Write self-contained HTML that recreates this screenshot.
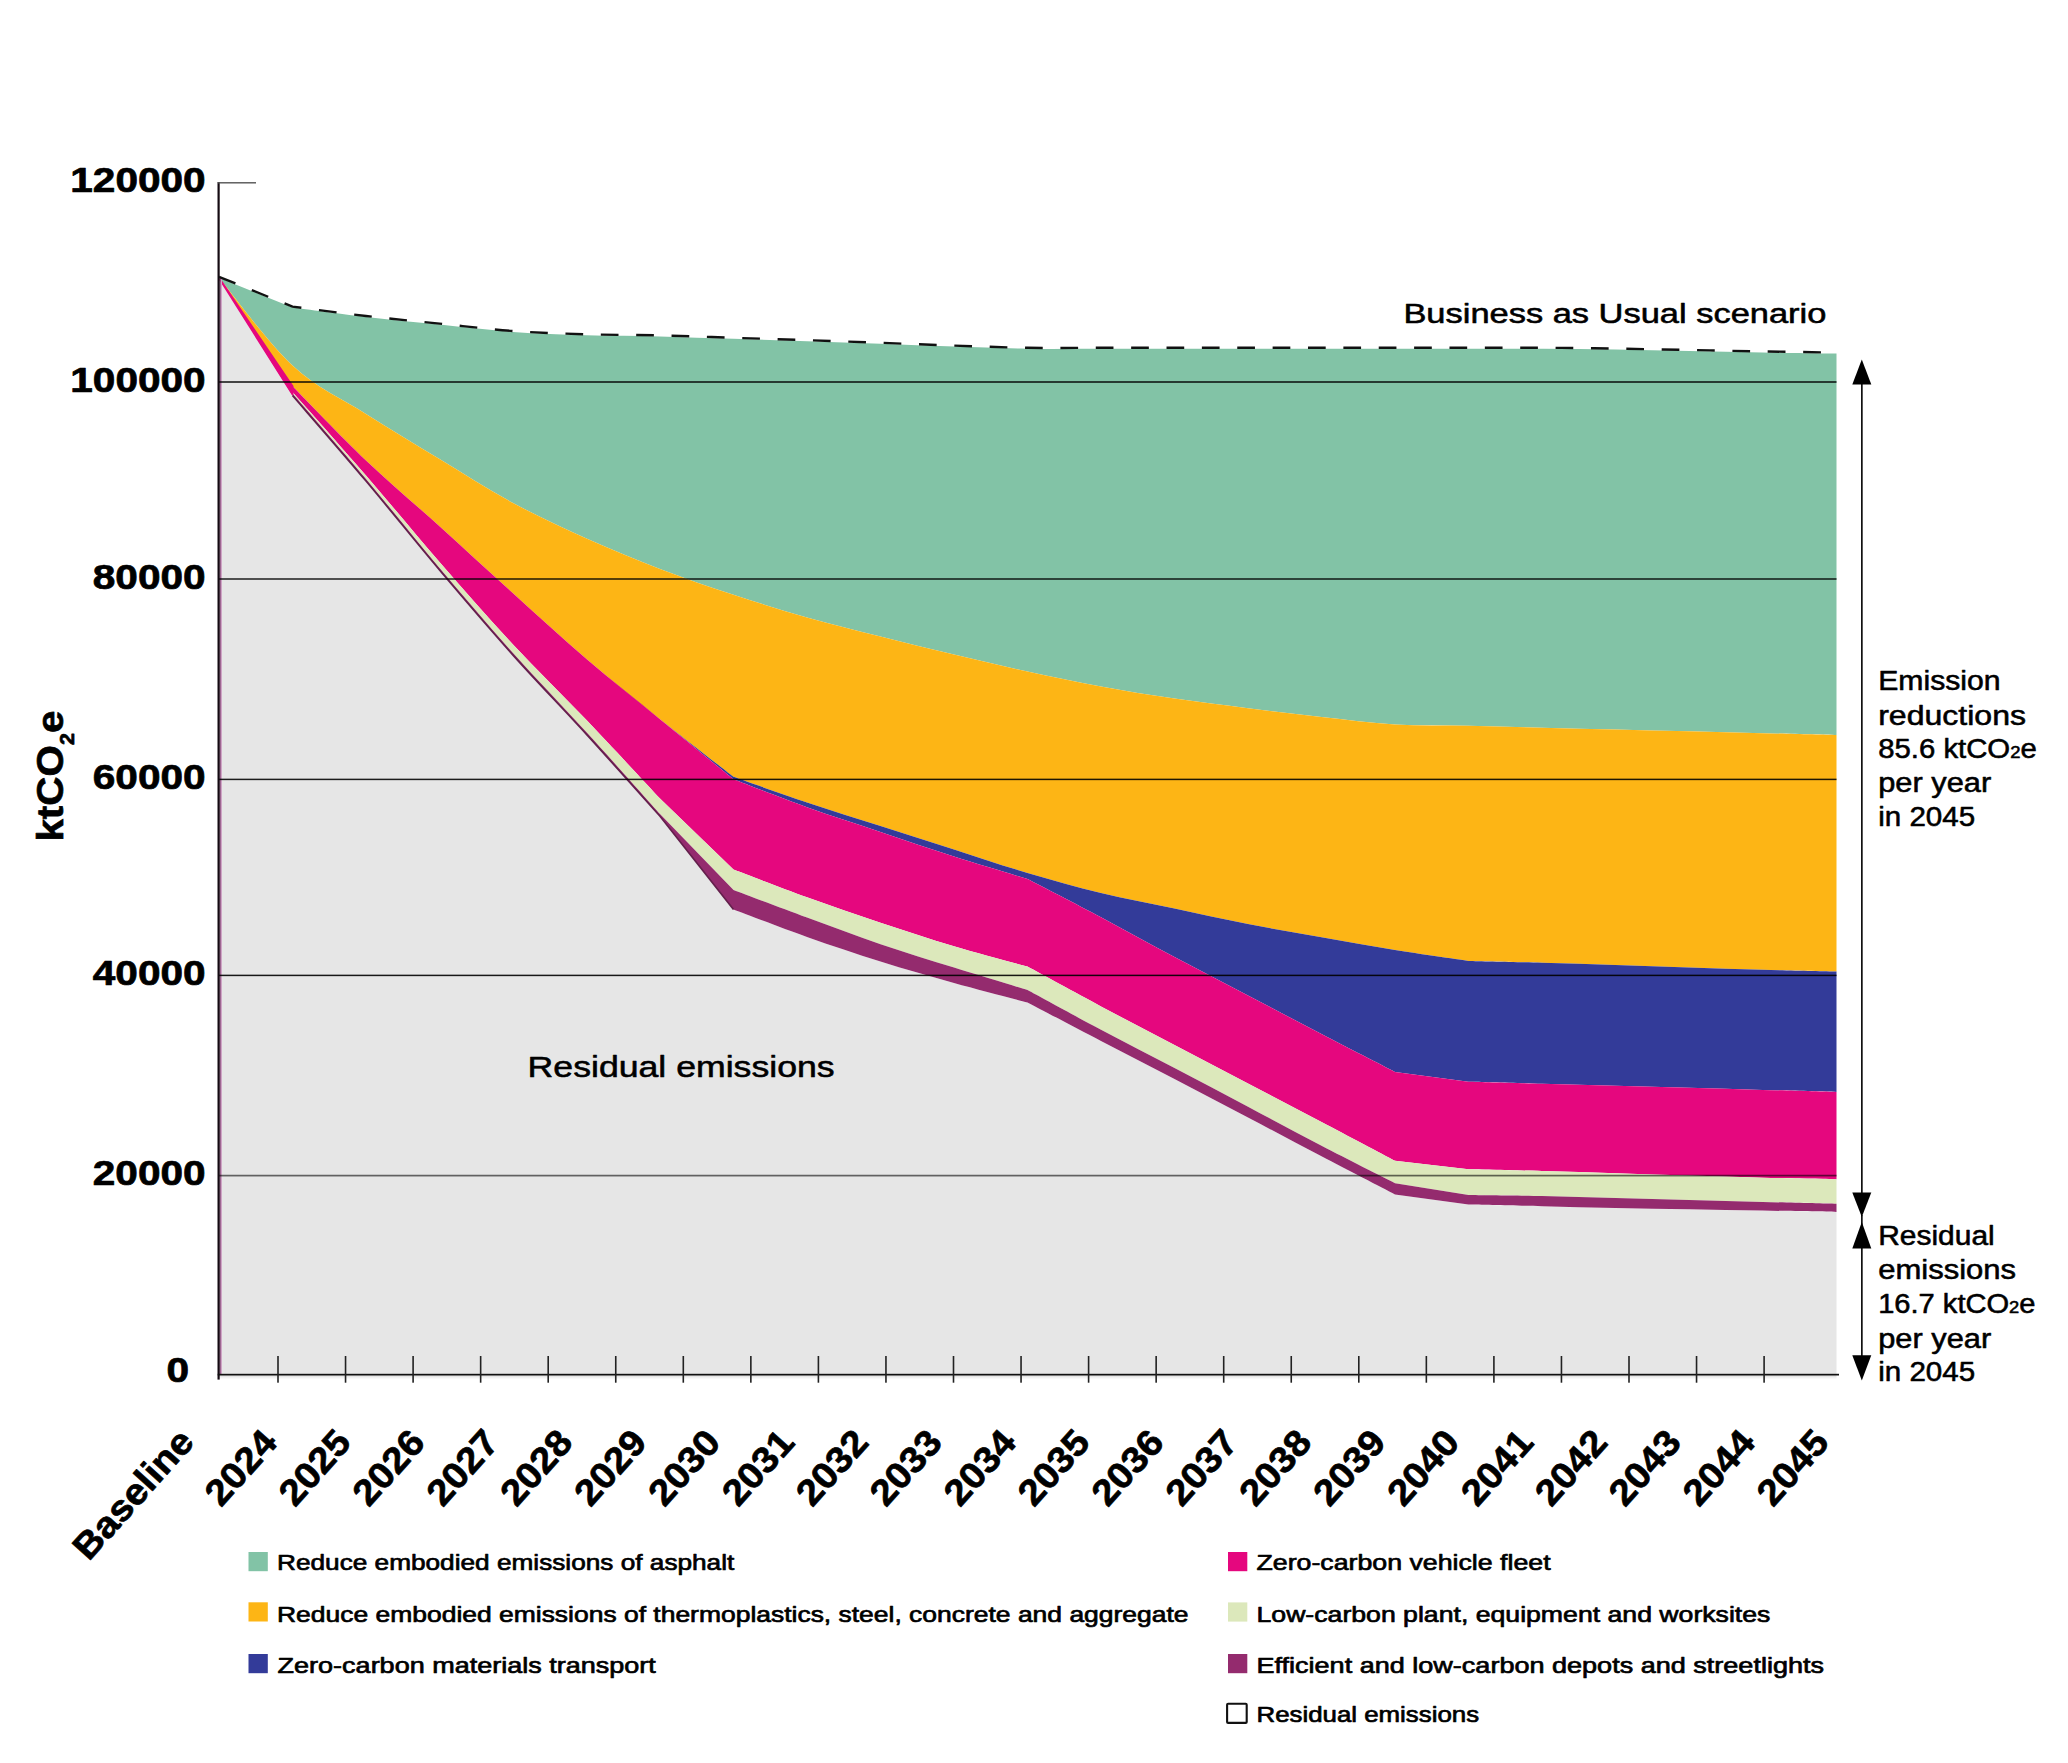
<!DOCTYPE html>
<html lang="en"><head><meta charset="utf-8"><title>Emissions pathway</title>
<style>html,body{margin:0;padding:0;background:#fff}svg{display:block}text{font-family:"Liberation Sans",sans-serif;fill:#000}.b{font-weight:bold}.m{stroke:#000;stroke-width:0.55px;stroke-linejoin:round}.sb{stroke:#000;stroke-width:0.7px;stroke-linejoin:round}.h{font-weight:bold;stroke:#000;stroke-width:0.7px;stroke-linejoin:round}</style>
</head><body>
<svg width="2068" height="1763" viewBox="0 0 2068 1763">
<rect width="2068" height="1763" fill="#fff"/>
<path fill="#e6e6e6" d="M219.0,277.8 L292.5,395.5 C304.8,409.8 341.5,451.9 366.0,481.0 C390.5,510.1 415.0,541.0 439.5,570.0 C464.0,599.0 488.5,627.7 513.0,655.1 C537.5,682.5 562.0,707.5 586.5,734.4 C611.0,761.3 647.8,802.6 660.0,816.3 L733.5,909.5 C745.8,914.1 782.5,928.3 807.0,937.0 C831.5,945.7 856.0,953.8 880.5,961.5 C905.0,969.2 929.5,976.2 954.0,983.0 C978.5,989.8 1015.2,999.2 1027.5,1002.4 C1039.8,1008.8 1076.5,1028.1 1101.0,1040.9 C1125.5,1053.7 1150.0,1066.2 1174.5,1079.0 C1199.0,1091.8 1223.5,1104.6 1248.0,1117.5 C1272.5,1130.4 1297.0,1143.5 1321.5,1156.3 C1346.0,1169.1 1382.8,1188.1 1395.0,1194.4 L1468.5,1204.6 C1480.8,1204.9 1517.5,1205.7 1542.0,1206.2 C1566.5,1206.8 1591.0,1207.4 1615.5,1207.9 C1640.0,1208.4 1664.5,1208.8 1689.0,1209.3 C1713.5,1209.8 1737.9,1210.2 1762.5,1210.6 C1787.1,1211.0 1824.2,1211.7 1836.5,1211.9 L1836.5,1377.2 L218.0,1377.2 L218.0,277.8 Z"/>
<rect x="218.0" y="1377.2" width="1618.5" height="1.2" fill="#f1f1f1"/>
<path fill="#82c3a6" d="M219.0,277.8 L292.5,307.6 C304.8,309.2 341.5,314.2 366.0,317.0 C390.5,319.8 415.0,322.1 439.5,324.6 C464.0,327.1 488.5,330.2 513.0,332.0 C537.5,333.8 562.0,334.6 586.5,335.3 C611.0,336.0 635.5,335.8 660.0,336.4 C684.5,337.0 709.0,338.0 733.5,338.8 C758.0,339.6 782.5,340.4 807.0,341.2 C831.5,342.0 856.0,342.9 880.5,343.8 C905.0,344.7 929.5,345.8 954.0,346.6 C978.5,347.4 1003.0,348.4 1027.5,348.8 C1052.0,349.2 1076.5,348.8 1101.0,348.8 C1125.5,348.8 1150.0,348.8 1174.5,348.8 C1199.0,348.8 1223.5,348.8 1248.0,348.8 C1272.5,348.8 1297.0,348.8 1321.5,348.8 C1346.0,348.8 1370.5,348.8 1395.0,348.8 C1419.5,348.8 1444.0,348.8 1468.5,348.8 C1493.0,348.8 1517.5,348.7 1542.0,348.8 C1566.5,348.9 1591.0,349.2 1615.5,349.6 C1640.0,350.0 1664.5,350.5 1689.0,351.0 C1713.5,351.5 1737.9,352.0 1762.5,352.4 C1787.1,352.8 1824.2,353.4 1836.5,353.6 L1836.5,735.0 C1824.2,734.7 1787.1,733.8 1762.5,733.2 C1737.9,732.6 1713.5,731.9 1689.0,731.3 C1664.5,730.7 1640.0,730.1 1615.5,729.5 C1591.0,728.9 1566.5,728.3 1542.0,727.7 C1517.5,727.1 1493.0,726.3 1468.5,725.8 C1444.0,725.3 1419.5,726.0 1395.0,724.5 C1370.5,723.0 1346.0,719.7 1321.5,717.0 C1297.0,714.3 1272.5,711.3 1248.0,708.2 C1223.5,705.1 1199.0,702.2 1174.5,698.6 C1150.0,695.0 1125.5,690.9 1101.0,686.4 C1076.5,681.9 1052.0,676.8 1027.5,671.5 C1003.0,666.2 978.5,660.3 954.0,654.5 C929.5,648.7 905.0,642.7 880.5,636.5 C856.0,630.3 831.5,624.5 807.0,617.5 C782.5,610.5 758.0,602.9 733.5,594.8 C709.0,586.7 684.5,578.4 660.0,569.0 C635.5,559.6 611.0,549.5 586.5,538.5 C562.0,527.5 537.5,516.2 513.0,503.0 C488.5,489.8 464.0,473.8 439.5,459.0 C415.0,444.2 390.5,429.6 366.0,414.0 C341.5,398.4 317.0,388.2 292.5,365.5 C268.0,342.8 231.2,292.4 219.0,277.8 Z"/>
<path fill="#fdb515" d="M219.0,277.8 C231.2,292.4 268.0,342.8 292.5,365.5 C317.0,388.2 341.5,398.4 366.0,414.0 C390.5,429.6 415.0,444.2 439.5,459.0 C464.0,473.8 488.5,489.8 513.0,503.0 C537.5,516.2 562.0,527.5 586.5,538.5 C611.0,549.5 635.5,559.6 660.0,569.0 C684.5,578.4 709.0,586.7 733.5,594.8 C758.0,602.9 782.5,610.5 807.0,617.5 C831.5,624.5 856.0,630.3 880.5,636.5 C905.0,642.7 929.5,648.7 954.0,654.5 C978.5,660.3 1003.0,666.2 1027.5,671.5 C1052.0,676.8 1076.5,681.9 1101.0,686.4 C1125.5,690.9 1150.0,695.0 1174.5,698.6 C1199.0,702.2 1223.5,705.1 1248.0,708.2 C1272.5,711.3 1297.0,714.3 1321.5,717.0 C1346.0,719.7 1370.5,723.0 1395.0,724.5 C1419.5,726.0 1444.0,725.3 1468.5,725.8 C1493.0,726.3 1517.5,727.1 1542.0,727.7 C1566.5,728.3 1591.0,728.9 1615.5,729.5 C1640.0,730.1 1664.5,730.7 1689.0,731.3 C1713.5,731.9 1737.9,732.6 1762.5,733.2 C1787.1,733.8 1824.2,734.7 1836.5,735.0 L1836.5,971.5 C1824.2,971.2 1787.1,970.5 1762.5,969.8 C1737.9,969.1 1713.5,968.2 1689.0,967.4 C1664.5,966.6 1640.0,965.7 1615.5,964.9 C1591.0,964.1 1566.5,963.4 1542.0,962.7 C1517.5,962.0 1480.8,961.2 1468.5,960.9 C1456.2,959.1 1419.5,953.9 1395.0,950.0 C1370.5,946.1 1346.0,941.6 1321.5,937.3 C1297.0,933.0 1272.5,928.8 1248.0,924.0 C1223.5,919.2 1199.0,913.7 1174.5,908.5 C1150.0,903.3 1125.5,898.9 1101.0,893.0 C1076.5,887.1 1052.0,880.3 1027.5,873.0 C1003.0,865.7 978.5,857.2 954.0,849.4 C929.5,841.6 905.0,833.8 880.5,826.0 C856.0,818.2 831.5,810.7 807.0,802.5 C782.5,794.3 745.8,781.1 733.5,776.8 C721.2,767.2 684.5,738.9 660.0,719.3 C635.5,699.7 611.0,680.0 586.5,659.0 C562.0,638.0 537.5,615.4 513.0,593.3 C488.5,571.2 464.0,548.3 439.5,526.2 C415.0,504.1 390.5,483.8 366.0,460.5 C341.5,437.2 304.8,398.7 292.5,386.3 L219.0,277.8 Z"/>
<path fill="#333b99" d="M219.0,277.8 L292.5,386.3 C304.8,398.7 341.5,437.2 366.0,460.5 C390.5,483.8 415.0,504.1 439.5,526.2 C464.0,548.3 488.5,571.2 513.0,593.3 C537.5,615.4 562.0,638.0 586.5,659.0 C611.0,680.0 635.5,699.7 660.0,719.3 C684.5,738.9 721.2,767.2 733.5,776.8 C745.8,781.1 782.5,794.3 807.0,802.5 C831.5,810.7 856.0,818.2 880.5,826.0 C905.0,833.8 929.5,841.6 954.0,849.4 C978.5,857.2 1003.0,865.7 1027.5,873.0 C1052.0,880.3 1076.5,887.1 1101.0,893.0 C1125.5,898.9 1150.0,903.3 1174.5,908.5 C1199.0,913.7 1223.5,919.2 1248.0,924.0 C1272.5,928.8 1297.0,933.0 1321.5,937.3 C1346.0,941.6 1370.5,946.1 1395.0,950.0 C1419.5,953.9 1456.2,959.1 1468.5,960.9 C1480.8,961.2 1517.5,962.0 1542.0,962.7 C1566.5,963.4 1591.0,964.1 1615.5,964.9 C1640.0,965.7 1664.5,966.6 1689.0,967.4 C1713.5,968.2 1737.9,969.1 1762.5,969.8 C1787.1,970.5 1824.2,971.2 1836.5,971.5 L1836.5,1091.9 C1824.2,1091.6 1787.1,1090.6 1762.5,1089.9 C1737.9,1089.2 1713.5,1088.5 1689.0,1087.8 C1664.5,1087.1 1640.0,1086.5 1615.5,1085.8 C1591.0,1085.1 1566.5,1084.4 1542.0,1083.7 C1517.5,1083.0 1480.8,1082.0 1468.5,1081.7 L1395.0,1071.9 C1382.8,1065.6 1346.0,1046.7 1321.5,1034.0 C1297.0,1021.3 1272.5,1008.3 1248.0,995.5 C1223.5,982.7 1199.0,970.0 1174.5,957.0 C1150.0,944.0 1125.5,930.2 1101.0,917.2 C1076.5,904.2 1039.8,885.4 1027.5,879.0 C1015.2,875.3 978.5,864.4 954.0,856.6 C929.5,848.8 905.0,840.2 880.5,832.0 C856.0,823.8 831.5,816.1 807.0,807.3 C782.5,798.5 745.8,784.0 733.5,779.3 C721.2,769.3 684.5,739.3 660.0,719.3 C635.5,699.2 611.0,680.0 586.5,659.0 C562.0,638.0 537.5,615.4 513.0,593.3 C488.5,571.2 464.0,548.3 439.5,526.2 C415.0,504.1 390.5,483.8 366.0,460.5 C341.5,437.2 304.8,398.7 292.5,386.3 L219.0,277.8 Z"/>
<path fill="#e5077e" d="M219.0,277.8 L292.5,386.3 C304.8,398.7 341.5,437.2 366.0,460.5 C390.5,483.8 415.0,504.1 439.5,526.2 C464.0,548.3 488.5,571.2 513.0,593.3 C537.5,615.4 562.0,638.0 586.5,659.0 C611.0,680.0 635.5,699.2 660.0,719.3 C684.5,739.3 721.2,769.3 733.5,779.3 C745.8,784.0 782.5,798.5 807.0,807.3 C831.5,816.1 856.0,823.8 880.5,832.0 C905.0,840.2 929.5,848.8 954.0,856.6 C978.5,864.4 1015.2,875.3 1027.5,879.0 C1039.8,885.4 1076.5,904.2 1101.0,917.2 C1125.5,930.2 1150.0,944.0 1174.5,957.0 C1199.0,970.0 1223.5,982.7 1248.0,995.5 C1272.5,1008.3 1297.0,1021.3 1321.5,1034.0 C1346.0,1046.7 1382.8,1065.6 1395.0,1071.9 L1468.5,1081.7 C1480.8,1082.0 1517.5,1083.0 1542.0,1083.7 C1566.5,1084.4 1591.0,1085.1 1615.5,1085.8 C1640.0,1086.5 1664.5,1087.1 1689.0,1087.8 C1713.5,1088.5 1737.9,1089.2 1762.5,1089.9 C1787.1,1090.6 1824.2,1091.6 1836.5,1091.9 L1836.5,1179.3 C1824.2,1179.0 1787.1,1178.3 1762.5,1177.7 C1737.9,1177.1 1713.5,1176.3 1689.0,1175.6 C1664.5,1174.8 1640.0,1174.0 1615.5,1173.2 C1591.0,1172.5 1566.5,1171.8 1542.0,1171.1 C1517.5,1170.4 1480.8,1169.6 1468.5,1169.3 L1395.0,1160.7 C1382.8,1154.2 1346.0,1134.8 1321.5,1121.9 C1297.0,1109.0 1272.5,1096.2 1248.0,1083.4 C1223.5,1070.6 1199.0,1057.7 1174.5,1044.9 C1150.0,1032.1 1125.5,1019.5 1101.0,1006.4 C1076.5,993.3 1039.8,973.2 1027.5,966.6 C1015.2,963.2 978.5,953.5 954.0,946.2 C929.5,938.9 905.0,930.9 880.5,922.7 C856.0,914.5 831.5,906.1 807.0,897.2 C782.5,888.4 745.8,874.2 733.5,869.6 L660.0,798.6 C647.8,785.5 611.0,745.8 586.5,720.1 C562.0,694.4 537.5,670.9 513.0,644.5 C488.5,618.1 464.0,590.2 439.5,562.0 C415.0,533.8 390.5,503.8 366.0,475.5 C341.5,447.2 304.8,405.9 292.5,392.0 L219.0,277.8 Z"/>
<path fill="#dce8bb" d="M219.0,277.8 L292.5,392.0 C304.8,405.9 341.5,447.2 366.0,475.5 C390.5,503.8 415.0,533.8 439.5,562.0 C464.0,590.2 488.5,618.1 513.0,644.5 C537.5,670.9 562.0,694.4 586.5,720.1 C611.0,745.8 647.8,785.5 660.0,798.6 L733.5,869.6 C745.8,874.2 782.5,888.4 807.0,897.2 C831.5,906.1 856.0,914.5 880.5,922.7 C905.0,930.9 929.5,938.9 954.0,946.2 C978.5,953.5 1015.2,963.2 1027.5,966.6 C1039.8,973.2 1076.5,993.3 1101.0,1006.4 C1125.5,1019.5 1150.0,1032.1 1174.5,1044.9 C1199.0,1057.7 1223.5,1070.6 1248.0,1083.4 C1272.5,1096.2 1297.0,1109.0 1321.5,1121.9 C1346.0,1134.8 1382.8,1154.2 1395.0,1160.7 L1468.5,1169.3 C1480.8,1169.6 1517.5,1170.4 1542.0,1171.1 C1566.5,1171.8 1591.0,1172.5 1615.5,1173.2 C1640.0,1174.0 1664.5,1174.8 1689.0,1175.6 C1713.5,1176.3 1737.9,1177.1 1762.5,1177.7 C1787.1,1178.3 1824.2,1179.0 1836.5,1179.3 L1836.5,1203.8 C1824.2,1203.5 1787.1,1202.6 1762.5,1201.9 C1737.9,1201.2 1713.5,1200.5 1689.0,1199.9 C1664.5,1199.3 1640.0,1198.8 1615.5,1198.1 C1591.0,1197.4 1566.5,1196.5 1542.0,1196.0 C1517.5,1195.5 1480.8,1195.2 1468.5,1195.0 L1395.0,1183.2 C1382.8,1177.0 1346.0,1158.5 1321.5,1145.8 C1297.0,1133.1 1272.5,1119.8 1248.0,1106.8 C1223.5,1093.8 1199.0,1080.8 1174.5,1068.0 C1150.0,1055.2 1125.5,1042.8 1101.0,1029.8 C1076.5,1016.8 1039.8,996.7 1027.5,990.1 C1015.2,986.4 978.5,975.2 954.0,967.6 C929.5,960.0 905.0,952.5 880.5,944.2 C856.0,935.9 831.5,926.6 807.0,917.6 C782.5,908.6 745.8,894.7 733.5,890.1 L660.0,814.0 C647.8,800.4 611.0,759.1 586.5,732.3 C562.0,705.5 537.5,680.4 513.0,653.0 C488.5,625.6 464.0,597.0 439.5,568.0 C415.0,539.0 390.5,508.1 366.0,479.0 C341.5,449.9 304.8,407.8 292.5,393.5 L219.0,277.8 Z"/>
<path fill="#942b6e" d="M219.0,277.8 L292.5,393.5 C304.8,407.8 341.5,449.9 366.0,479.0 C390.5,508.1 415.0,539.0 439.5,568.0 C464.0,597.0 488.5,625.6 513.0,653.0 C537.5,680.4 562.0,705.5 586.5,732.3 C611.0,759.1 647.8,800.4 660.0,814.0 L733.5,890.1 C745.8,894.7 782.5,908.6 807.0,917.6 C831.5,926.6 856.0,935.9 880.5,944.2 C905.0,952.5 929.5,960.0 954.0,967.6 C978.5,975.2 1015.2,986.4 1027.5,990.1 C1039.8,996.7 1076.5,1016.8 1101.0,1029.8 C1125.5,1042.8 1150.0,1055.2 1174.5,1068.0 C1199.0,1080.8 1223.5,1093.8 1248.0,1106.8 C1272.5,1119.8 1297.0,1133.1 1321.5,1145.8 C1346.0,1158.5 1382.8,1177.0 1395.0,1183.2 L1468.5,1195.0 C1480.8,1195.2 1517.5,1195.5 1542.0,1196.0 C1566.5,1196.5 1591.0,1197.4 1615.5,1198.1 C1640.0,1198.8 1664.5,1199.3 1689.0,1199.9 C1713.5,1200.5 1737.9,1201.2 1762.5,1201.9 C1787.1,1202.6 1824.2,1203.5 1836.5,1203.8 L1836.5,1211.9 C1824.2,1211.7 1787.1,1211.0 1762.5,1210.6 C1737.9,1210.2 1713.5,1209.8 1689.0,1209.3 C1664.5,1208.8 1640.0,1208.4 1615.5,1207.9 C1591.0,1207.4 1566.5,1206.8 1542.0,1206.2 C1517.5,1205.7 1480.8,1204.9 1468.5,1204.6 L1395.0,1194.4 C1382.8,1188.1 1346.0,1169.1 1321.5,1156.3 C1297.0,1143.5 1272.5,1130.4 1248.0,1117.5 C1223.5,1104.6 1199.0,1091.8 1174.5,1079.0 C1150.0,1066.2 1125.5,1053.7 1101.0,1040.9 C1076.5,1028.1 1039.8,1008.8 1027.5,1002.4 C1015.2,999.2 978.5,989.8 954.0,983.0 C929.5,976.2 905.0,969.2 880.5,961.5 C856.0,953.8 831.5,945.7 807.0,937.0 C782.5,928.3 745.8,914.1 733.5,909.5 L660.0,816.3 C647.8,802.6 611.0,761.3 586.5,734.4 C562.0,707.5 537.5,682.5 513.0,655.1 C488.5,627.7 464.0,599.0 439.5,570.0 C415.0,541.0 390.5,510.1 366.0,481.0 C341.5,451.9 304.8,409.8 292.5,395.5 L219.0,277.8 Z"/>
<path fill="none" stroke="#64204c" stroke-width="1.7" d="M292.5,395.5 C304.8,409.8 341.5,451.9 366.0,481.0 C390.5,510.1 415.0,541.0 439.5,570.0 C464.0,599.0 488.5,627.7 513.0,655.1 C537.5,682.5 562.0,707.5 586.5,734.4 C611.0,761.3 647.8,802.6 660.0,816.3 L733.5,909.5"/>
<polygon fill="#e5077e" stroke="#e5077e" stroke-width="2.0" stroke-linejoin="round" points="220.2,279.8 292.5,386.3 292.5,394.3"/>
<rect x="219.6" y="278" width="1.2" height="1096.6" fill="#7c356a"/>
<rect x="220.8" y="278" width="1.2" height="1096.6" fill="#cfa5c6"/>
<rect x="219" y="381.20" width="1617.5" height="1.6" fill="#000" fill-opacity="0.88"/>
<rect x="219" y="578.25" width="1617.5" height="1.5" fill="#000" fill-opacity="0.88"/>
<rect x="219" y="778.65" width="1617.5" height="1.5" fill="#000" fill-opacity="0.88"/>
<rect x="219" y="974.65" width="1617.5" height="1.5" fill="#000" fill-opacity="0.9"/>
<rect x="219" y="1174.75" width="1617.5" height="1.7" fill="#000" fill-opacity="0.58"/>
<rect x="217.5" y="182" width="2.2" height="1197.6" fill="#140a12"/>
<rect x="218" y="182.1" width="38" height="1.4" fill="#555"/>
<rect x="217.7" y="1373.80" width="1621.3" height="1.7" fill="#111"/>
<rect x="277.20" y="1356" width="1.6" height="26.7" fill="#222"/>
<rect x="344.75" y="1356" width="1.6" height="26.7" fill="#222"/>
<rect x="412.30" y="1356" width="1.6" height="26.7" fill="#222"/>
<rect x="479.85" y="1356" width="1.6" height="26.7" fill="#222"/>
<rect x="547.40" y="1356" width="1.6" height="26.7" fill="#222"/>
<rect x="614.95" y="1356" width="1.6" height="26.7" fill="#222"/>
<rect x="682.50" y="1356" width="1.6" height="26.7" fill="#222"/>
<rect x="750.05" y="1356" width="1.6" height="26.7" fill="#222"/>
<rect x="817.60" y="1356" width="1.6" height="26.7" fill="#222"/>
<rect x="885.15" y="1356" width="1.6" height="26.7" fill="#222"/>
<rect x="952.70" y="1356" width="1.6" height="26.7" fill="#222"/>
<rect x="1020.25" y="1356" width="1.6" height="26.7" fill="#222"/>
<rect x="1087.80" y="1356" width="1.6" height="26.7" fill="#222"/>
<rect x="1155.35" y="1356" width="1.6" height="26.7" fill="#222"/>
<rect x="1222.90" y="1356" width="1.6" height="26.7" fill="#222"/>
<rect x="1290.45" y="1356" width="1.6" height="26.7" fill="#222"/>
<rect x="1358.00" y="1356" width="1.6" height="26.7" fill="#222"/>
<rect x="1425.55" y="1356" width="1.6" height="26.7" fill="#222"/>
<rect x="1493.10" y="1356" width="1.6" height="26.7" fill="#222"/>
<rect x="1560.65" y="1356" width="1.6" height="26.7" fill="#222"/>
<rect x="1628.20" y="1356" width="1.6" height="26.7" fill="#222"/>
<rect x="1695.75" y="1356" width="1.6" height="26.7" fill="#222"/>
<rect x="1763.30" y="1356" width="1.6" height="26.7" fill="#222"/>
<path fill="none" stroke="#111" stroke-width="2.4" stroke-dasharray="17.7 17.67" d="M219.0,276.8 L292.5,306.6 C304.8,308.2 341.5,313.2 366.0,316.0 C390.5,318.8 415.0,321.1 439.5,323.6 C464.0,326.1 488.5,329.2 513.0,331.0 C537.5,332.8 562.0,333.6 586.5,334.3 C611.0,335.0 635.5,334.8 660.0,335.4 C684.5,336.0 709.0,337.0 733.5,337.8 C758.0,338.6 782.5,339.4 807.0,340.2 C831.5,341.0 856.0,341.9 880.5,342.8 C905.0,343.7 929.5,344.8 954.0,345.6 C978.5,346.4 1003.0,347.4 1027.5,347.8 C1052.0,348.2 1076.5,347.8 1101.0,347.8 C1125.5,347.8 1150.0,347.8 1174.5,347.8 C1199.0,347.8 1223.5,347.8 1248.0,347.8 C1272.5,347.8 1297.0,347.8 1321.5,347.8 C1346.0,347.8 1370.5,347.8 1395.0,347.8 C1419.5,347.8 1444.0,347.8 1468.5,347.8 C1493.0,347.8 1517.5,347.7 1542.0,347.8 C1566.5,347.9 1591.0,348.2 1615.5,348.6 C1640.0,349.0 1664.5,349.5 1689.0,350.0 C1713.5,350.5 1738.0,351.0 1762.5,351.4 C1787.0,351.8 1823.8,352.4 1836.0,352.6"/>
<rect x="1861" y="375" width="1.7" height="830" fill="#111"/>
<rect x="1861" y="1215" width="1.7" height="150" fill="#111"/>
<polygon fill="#000" points="1861.8,359.5 1871.3,384.5 1852.3,384.5"/>
<polygon fill="#000" points="1861.8,1217 1871.3,1192.5 1852.3,1192.5"/>
<polygon fill="#000" points="1861.8,1222 1871.3,1248.6 1852.3,1248.6"/>
<polygon fill="#000" points="1861.8,1380.5 1871.3,1355.3 1852.3,1355.3"/>
<text x="70.3" y="192.3" font-size="34.6" class="h" textLength="135.3" lengthAdjust="spacingAndGlyphs">120000</text>
<text x="70.3" y="391.7" font-size="34.6" class="h" textLength="135.3" lengthAdjust="spacingAndGlyphs">100000</text>
<text x="92.8" y="588.8" font-size="34.6" class="h" textLength="112.8" lengthAdjust="spacingAndGlyphs">80000</text>
<text x="92.8" y="789.3" font-size="34.6" class="h" textLength="112.8" lengthAdjust="spacingAndGlyphs">60000</text>
<text x="92.8" y="985.3" font-size="34.6" class="h" textLength="112.8" lengthAdjust="spacingAndGlyphs">40000</text>
<text x="92.8" y="1185.4" font-size="34.6" class="h" textLength="112.8" lengthAdjust="spacingAndGlyphs">20000</text>
<text x="166.6" y="1381.9" font-size="34.6" class="h" textLength="22.6" lengthAdjust="spacingAndGlyphs">0</text>
<g transform="translate(63.2,841.6) rotate(-90)"><text x="0" y="0" font-size="37.5" class="h" textLength="131" lengthAdjust="spacingAndGlyphs">ktCO<tspan font-size="20" dy="11">2</tspan><tspan dy="-11">e</tspan></text></g>
<text transform="translate(195.7,1443.1) rotate(-48)" x="-160.0" y="0" font-size="36.5" class="h" textLength="160.0" lengthAdjust="spacingAndGlyphs">Baseline</text>
<text transform="translate(278.9,1443.8) rotate(-48)" x="-86.5" y="0" font-size="36.5" class="h" textLength="86.5" lengthAdjust="spacingAndGlyphs">2024</text>
<text transform="translate(352.8,1443.8) rotate(-48)" x="-86.5" y="0" font-size="36.5" class="h" textLength="86.5" lengthAdjust="spacingAndGlyphs">2025</text>
<text transform="translate(426.7,1443.8) rotate(-48)" x="-86.5" y="0" font-size="36.5" class="h" textLength="86.5" lengthAdjust="spacingAndGlyphs">2026</text>
<text transform="translate(500.6,1443.8) rotate(-48)" x="-86.5" y="0" font-size="36.5" class="h" textLength="86.5" lengthAdjust="spacingAndGlyphs">2027</text>
<text transform="translate(574.5,1443.8) rotate(-48)" x="-86.5" y="0" font-size="36.5" class="h" textLength="86.5" lengthAdjust="spacingAndGlyphs">2028</text>
<text transform="translate(648.4,1443.8) rotate(-48)" x="-86.5" y="0" font-size="36.5" class="h" textLength="86.5" lengthAdjust="spacingAndGlyphs">2029</text>
<text transform="translate(722.3,1443.8) rotate(-48)" x="-86.5" y="0" font-size="36.5" class="h" textLength="86.5" lengthAdjust="spacingAndGlyphs">2030</text>
<text transform="translate(796.2,1443.8) rotate(-48)" x="-86.5" y="0" font-size="36.5" class="h" textLength="86.5" lengthAdjust="spacingAndGlyphs">2031</text>
<text transform="translate(870.1,1443.8) rotate(-48)" x="-86.5" y="0" font-size="36.5" class="h" textLength="86.5" lengthAdjust="spacingAndGlyphs">2032</text>
<text transform="translate(944.0,1443.8) rotate(-48)" x="-86.5" y="0" font-size="36.5" class="h" textLength="86.5" lengthAdjust="spacingAndGlyphs">2033</text>
<text transform="translate(1017.9,1443.8) rotate(-48)" x="-86.5" y="0" font-size="36.5" class="h" textLength="86.5" lengthAdjust="spacingAndGlyphs">2034</text>
<text transform="translate(1091.8,1443.8) rotate(-48)" x="-86.5" y="0" font-size="36.5" class="h" textLength="86.5" lengthAdjust="spacingAndGlyphs">2035</text>
<text transform="translate(1165.7,1443.8) rotate(-48)" x="-86.5" y="0" font-size="36.5" class="h" textLength="86.5" lengthAdjust="spacingAndGlyphs">2036</text>
<text transform="translate(1239.6,1443.8) rotate(-48)" x="-86.5" y="0" font-size="36.5" class="h" textLength="86.5" lengthAdjust="spacingAndGlyphs">2037</text>
<text transform="translate(1313.5,1443.8) rotate(-48)" x="-86.5" y="0" font-size="36.5" class="h" textLength="86.5" lengthAdjust="spacingAndGlyphs">2038</text>
<text transform="translate(1387.4,1443.8) rotate(-48)" x="-86.5" y="0" font-size="36.5" class="h" textLength="86.5" lengthAdjust="spacingAndGlyphs">2039</text>
<text transform="translate(1461.3,1443.8) rotate(-48)" x="-86.5" y="0" font-size="36.5" class="h" textLength="86.5" lengthAdjust="spacingAndGlyphs">2040</text>
<text transform="translate(1535.2,1443.8) rotate(-48)" x="-86.5" y="0" font-size="36.5" class="h" textLength="86.5" lengthAdjust="spacingAndGlyphs">2041</text>
<text transform="translate(1609.1,1443.8) rotate(-48)" x="-86.5" y="0" font-size="36.5" class="h" textLength="86.5" lengthAdjust="spacingAndGlyphs">2042</text>
<text transform="translate(1683.0,1443.8) rotate(-48)" x="-86.5" y="0" font-size="36.5" class="h" textLength="86.5" lengthAdjust="spacingAndGlyphs">2043</text>
<text transform="translate(1756.9,1443.8) rotate(-48)" x="-86.5" y="0" font-size="36.5" class="h" textLength="86.5" lengthAdjust="spacingAndGlyphs">2044</text>
<text transform="translate(1830.8,1443.8) rotate(-48)" x="-86.5" y="0" font-size="36.5" class="h" textLength="86.5" lengthAdjust="spacingAndGlyphs">2045</text>
<text x="1403.4" y="322.8" font-size="27.7" class="m" textLength="423" lengthAdjust="spacingAndGlyphs">Business as Usual scenario</text>
<text x="527.6" y="1077.3" font-size="29.5" class="m" textLength="307" lengthAdjust="spacingAndGlyphs">Residual emissions</text>
<text x="1878.2" y="690.1" font-size="27" class="m" textLength="122.4" lengthAdjust="spacingAndGlyphs">Emission</text>
<text x="1878.2" y="724.5" font-size="27" class="m" textLength="147.8" lengthAdjust="spacingAndGlyphs">reductions</text>
<text x="1878.2" y="757.5" font-size="27" class="m" textLength="158.6" lengthAdjust="spacingAndGlyphs">85.6 ktCO<tspan font-size="17">2</tspan>e</text>
<text x="1878.2" y="791.9" font-size="27" class="m" textLength="113" lengthAdjust="spacingAndGlyphs">per year</text>
<text x="1878.2" y="825.6" font-size="27" class="m" textLength="96.9" lengthAdjust="spacingAndGlyphs">in 2045</text>
<text x="1878.2" y="1245.1" font-size="27" class="m" textLength="116.5" lengthAdjust="spacingAndGlyphs">Residual</text>
<text x="1878.2" y="1278.8" font-size="27" class="m" textLength="137.9" lengthAdjust="spacingAndGlyphs">emissions</text>
<text x="1878.2" y="1313.1" font-size="27" class="m" textLength="157.3" lengthAdjust="spacingAndGlyphs">16.7 ktCO<tspan font-size="17">2</tspan>e</text>
<text x="1878.2" y="1347.5" font-size="27" class="m" textLength="113" lengthAdjust="spacingAndGlyphs">per year</text>
<text x="1878.2" y="1380.8" font-size="27" class="m" textLength="96.9" lengthAdjust="spacingAndGlyphs">in 2045</text>
<rect x="248.5" y="1552" width="19.3" height="19.2" fill="#82c3a6"/>
<text x="277.0" y="1569.9" font-size="22.8" class="sb" textLength="457.3" lengthAdjust="spacingAndGlyphs">Reduce embodied emissions of asphalt</text>
<rect x="248.5" y="1602.3" width="19.3" height="19.2" fill="#fdb515"/>
<text x="277.0" y="1621.5" font-size="22.8" class="sb" textLength="911.5" lengthAdjust="spacingAndGlyphs">Reduce embodied emissions of thermoplastics, steel, concrete and aggregate</text>
<rect x="248.5" y="1654" width="19.3" height="19.2" fill="#333b99"/>
<text x="277.6" y="1672.9" font-size="22.8" class="sb" textLength="378.2" lengthAdjust="spacingAndGlyphs">Zero-carbon materials transport</text>
<rect x="1228" y="1552" width="19.3" height="19.2" fill="#e5077e"/>
<text x="1256.5" y="1569.6" font-size="22.8" class="sb" textLength="294.1" lengthAdjust="spacingAndGlyphs">Zero-carbon vehicle fleet</text>
<rect x="1228" y="1602.4" width="19.3" height="19.2" fill="#dce8bb"/>
<text x="1256.5" y="1621.5" font-size="22.8" class="sb" textLength="513.9" lengthAdjust="spacingAndGlyphs">Low-carbon plant, equipment and worksites</text>
<rect x="1228" y="1654" width="19.3" height="19.2" fill="#942b6e"/>
<text x="1256.5" y="1673.2" font-size="22.8" class="sb" textLength="567.5" lengthAdjust="spacingAndGlyphs">Efficient and low-carbon depots and streetlights</text>
<rect x="1227.1" y="1703.7" width="19.6" height="19.2" rx="1" fill="#fff" stroke="#111" stroke-width="2.1"/>
<text x="1256.5" y="1721.7" font-size="22.8" class="sb" textLength="222.6" lengthAdjust="spacingAndGlyphs">Residual emissions</text>
</svg></body></html>
